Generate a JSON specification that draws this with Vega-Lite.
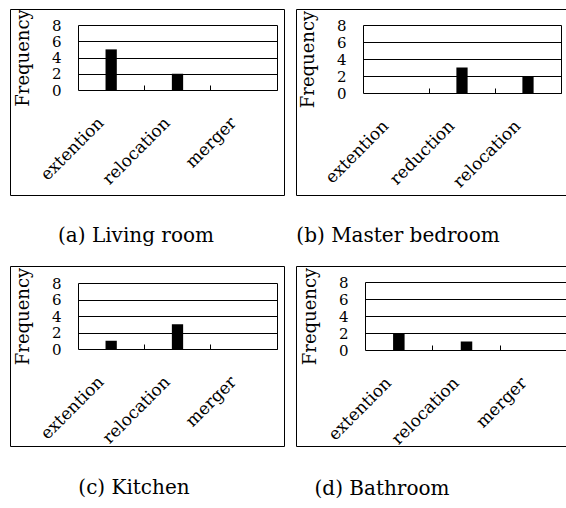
{
  "$schema": "https://vega.github.io/schema/vega-lite/v6.json",
  "padding": {"left": 9, "top": 8, "right": 0, "bottom": 0},
  "background": "white",
  "config": {
    "view": {"stroke": "black", "strokeWidth": 1},
    "font": "DejaVu Serif",
    "axis": {"labelFont": "DejaVu Serif", "titleFont": "DejaVu Serif", "labelColor": "black", "titleColor": "black", "domainColor": "black", "tickColor": "black", "gridColor": "black"},
    "title": {"font": "DejaVu Serif", "fontSize": 20, "fontWeight": "normal", "color": "black"}
  },
  "datasets": {
    "living": [
      {"type": "extention", "freq": 5},
      {"type": "relocation", "freq": 2},
      {"type": "merger", "freq": 0}
    ],
    "master": [
      {"type": "extention", "freq": 0},
      {"type": "reduction", "freq": 3},
      {"type": "relocation", "freq": 2}
    ],
    "kitchen": [
      {"type": "extention", "freq": 1},
      {"type": "relocation", "freq": 3},
      {"type": "merger", "freq": 0}
    ],
    "bath": [
      {"type": "extention", "freq": 2},
      {"type": "relocation", "freq": 1},
      {"type": "merger", "freq": 0}
    ]
  },
  "spacing": 18,
  "vconcat": [
    {
      "spacing": 10,
      "hconcat": [
        {
          "width": 274, "height": 186,
          "title": {"text": "(a) Living room", "orient": "bottom", "offset": 31, "frame": "group", "anchor": "middle", "dx": -11},
          "data": {"name": "living"},
          "encoding": {
            "x": {"field": "type", "type": "nominal", "sort": null,
              "scale": {"range": [68, 267], "paddingInner": 0, "paddingOuter": 0},
              "axis": {"title": null, "orient": "top", "offset": -81, "bandPosition": 1, "domain": false, "ticks": true, "tickSize": 5, "tickWidth": 1, "labelAngle": -45, "labelAlign": "right", "labelBaseline": "middle", "labelPadding": -35, "labelOffset": -10, "labelFontSize": 17, "labelOverlap": false, "grid": false}}
          },
          "layer": [
            {
              "mark": {"type": "bar", "color": "black", "width": {"band": 0.17}},
              "encoding": {
                "y": {"field": "freq", "type": "quantitative",
                  "scale": {"domain": [0, 8], "range": [81, 16], "nice": false},
                  "axis": {"title": "Frequency", "orient": "left", "offset": -68, "values": [0, 2, 4, 6, 8], "grid": true, "gridWidth": 1, "domain": true, "ticks": false, "tickSize": 0, "labelPadding": 17, "labelFontSize": 15, "labelOverlap": false, "labelFlush": false, "titleFontSize": 18, "titleFontWeight": "normal", "titlePadding": 19}}
              }
            },
            {
              "mark": {"type": "bar", "opacity": 0, "width": {"band": 0.17}},
              "encoding": {
                "y": {"field": "freq", "type": "quantitative",
                  "scale": {"domain": [0, 8], "range": [81, 16], "nice": false},
                  "axis": {"title": null, "orient": "right", "offset": -7, "values": [0, 8], "grid": false, "domain": true, "ticks": false, "labels": false}}
              }
            }
          ]
        },
        {
          "width": 274, "height": 186,
          "title": {"text": "(b) Master bedroom", "orient": "bottom", "offset": 31, "frame": "group", "anchor": "middle", "dx": -35},
          "data": {"name": "master"},
          "encoding": {
            "x": {"field": "type", "type": "nominal", "sort": null,
              "scale": {"range": [67, 265], "paddingInner": 0, "paddingOuter": 0},
              "axis": {"title": null, "orient": "top", "offset": -84, "bandPosition": 1, "domain": false, "ticks": true, "tickSize": 5, "tickWidth": 1, "labelAngle": -45, "labelAlign": "right", "labelBaseline": "middle", "labelPadding": -35, "labelOffset": -10, "labelFontSize": 17, "labelOverlap": false, "grid": false}}
          },
          "layer": [
            {
              "mark": {"type": "bar", "color": "black", "width": {"band": 0.17}},
              "encoding": {
                "y": {"field": "freq", "type": "quantitative",
                  "scale": {"domain": [0, 8], "range": [84, 16], "nice": false},
                  "axis": {"title": "Frequency", "orient": "left", "offset": -67, "values": [0, 2, 4, 6, 8], "grid": true, "gridWidth": 1, "domain": true, "ticks": false, "tickSize": 0, "labelPadding": 17, "labelFontSize": 15, "labelOverlap": false, "labelFlush": false, "titleFontSize": 18, "titleFontWeight": "normal", "titlePadding": 19}}
              }
            },
            {
              "mark": {"type": "bar", "opacity": 0, "width": {"band": 0.17}},
              "encoding": {
                "y": {"field": "freq", "type": "quantitative",
                  "scale": {"domain": [0, 8], "range": [84, 16], "nice": false},
                  "axis": {"title": null, "orient": "right", "offset": -9, "values": [0, 8], "grid": false, "domain": true, "ticks": false, "labels": false}}
              }
            }
          ]
        }
      ]
    },
    {
      "spacing": 10,
      "hconcat": [
        {
          "width": 274, "height": 180,
          "title": {"text": "(c) Kitchen", "orient": "bottom", "offset": 32, "frame": "group", "anchor": "middle", "dx": -13},
          "data": {"name": "kitchen"},
          "encoding": {
            "x": {"field": "type", "type": "nominal", "sort": null,
              "scale": {"range": [68, 267], "paddingInner": 0, "paddingOuter": 0},
              "axis": {"title": null, "orient": "top", "offset": -83, "bandPosition": 1, "domain": false, "ticks": true, "tickSize": 5, "tickWidth": 1, "labelAngle": -45, "labelAlign": "right", "labelBaseline": "middle", "labelPadding": -35, "labelOffset": -10, "labelFontSize": 17, "labelOverlap": false, "grid": false}}
          },
          "layer": [
            {
              "mark": {"type": "bar", "color": "black", "width": {"band": 0.17}},
              "encoding": {
                "y": {"field": "freq", "type": "quantitative",
                  "scale": {"domain": [0, 8], "range": [83, 17], "nice": false},
                  "axis": {"title": "Frequency", "orient": "left", "offset": -68, "values": [0, 2, 4, 6, 8], "grid": true, "gridWidth": 1, "domain": true, "ticks": false, "tickSize": 0, "labelPadding": 17, "labelFontSize": 15, "labelOverlap": false, "labelFlush": false, "titleFontSize": 18, "titleFontWeight": "normal", "titlePadding": 19}}
              }
            },
            {
              "mark": {"type": "bar", "opacity": 0, "width": {"band": 0.17}},
              "encoding": {
                "y": {"field": "freq", "type": "quantitative",
                  "scale": {"domain": [0, 8], "range": [83, 17], "nice": false},
                  "axis": {"title": null, "orient": "right", "offset": -7, "values": [0, 8], "grid": false, "domain": true, "ticks": false, "labels": false}}
              }
            }
          ]
        },
        {
          "width": 274, "height": 180,
          "title": {"text": "(d) Bathroom", "orient": "bottom", "offset": 32, "frame": "group", "anchor": "middle", "dx": -51},
          "data": {"name": "bath"},
          "encoding": {
            "x": {"field": "type", "type": "nominal", "sort": null,
              "scale": {"range": [69, 272], "paddingInner": 0, "paddingOuter": 0},
              "axis": {"title": null, "orient": "top", "offset": -84, "bandPosition": 1, "domain": false, "ticks": true, "tickSize": 5, "tickWidth": 1, "labelAngle": -45, "labelAlign": "right", "labelBaseline": "middle", "labelPadding": -35, "labelOffset": -10, "labelFontSize": 17, "labelOverlap": false, "grid": false}}
          },
          "layer": [
            {
              "mark": {"type": "bar", "color": "black", "width": {"band": 0.17}},
              "encoding": {
                "y": {"field": "freq", "type": "quantitative",
                  "scale": {"domain": [0, 8], "range": [84, 16], "nice": false},
                  "axis": {"title": "Frequency", "orient": "left", "offset": -69, "values": [0, 2, 4, 6, 8], "grid": true, "gridWidth": 1, "domain": true, "ticks": false, "tickSize": 0, "labelPadding": 17, "labelFontSize": 15, "labelOverlap": false, "labelFlush": false, "titleFontSize": 18, "titleFontWeight": "normal", "titlePadding": 19}}
              }
            },
            {
              "mark": {"type": "bar", "opacity": 0, "width": {"band": 0.17}},
              "encoding": {
                "y": {"field": "freq", "type": "quantitative",
                  "scale": {"domain": [0, 8], "range": [84, 16], "nice": false},
                  "axis": {"title": null, "orient": "right", "offset": -2, "values": [0, 8], "grid": false, "domain": true, "ticks": false, "labels": false}}
              }
            }
          ]
        }
      ]
    }
  ]
}
